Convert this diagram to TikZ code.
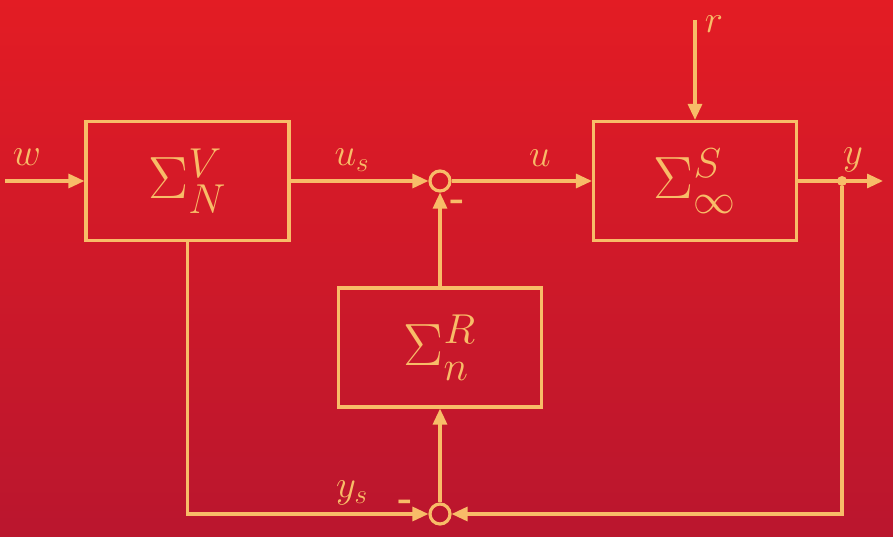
\RequirePackage{fix-cm}
\documentclass[tikz,border=0pt]{standalone}
\usepackage{tikz}
\usetikzlibrary{arrows.meta,positioning}
\definecolor{bgtop}{RGB}{227,28,36}
\definecolor{bgbot}{RGB}{186,22,46}
\definecolor{lineor}{RGB}{248,188,104}
\begin{document}
\begin{tikzpicture}[x=0.02cm, y=-0.02cm,
  block/.style={draw=lineor, line width=1.8pt, rectangle, minimum width=4.06cm, minimum height=2.38cm, text=lineor, font=\fontsize{34}{40}\selectfont},
  sum/.style={draw=lineor, line width=1.8pt, circle, minimum size=0.4cm, inner sep=0pt},
  sig/.style={text=lineor, inner sep=1pt, font=\fontsize{22}{26}\selectfont},
  link/.style={draw=lineor, line width=1.8pt, -{Triangle[length=0.32cm,width=0.28cm]}}
]
\shade[top color=bgtop, bottom color=bgbot] (0,0) rectangle (893,537);
\useasboundingbox (0,0) rectangle (893,537);
\node[block] (V) at (187.5,181) {$\Sigma_N^V$};
\node[block] (S) at (695,181) {$\Sigma_\infty^S$};
\node[block] (R) at (440,347.5) {$\Sigma_n^R$};
\node[sum] (st) at (440,181) {};
\node[sum] (sb) at (440,514) {};
\node[fill=lineor, circle, inner sep=0pt, minimum size=0.2cm] (dot) at (842,181) {};
\coordinate (win) at (5,181);
\coordinate (rin) at (695,20);
\coordinate (yout) at (883,181);
\draw[link] (win) -- (V);
\draw[link] (V) -- (st);
\draw[link] (st) -- (S);
\draw[link] (rin) -- (S);
\draw[link] (S) -- (yout);
\draw[link] (R) -- (st);
\draw[link] (sb) -- (R);
\draw[link] (V) |- (sb);
\draw[link] (dot) |- (sb);
\node[sig] (lw) at (27,157) {$w$};
\node[sig] (lus) at (352,160) {$u_s$};
\node[sig] (lu) at (540,158) {$u$};
\node[sig] (ly) at (853,160) {$y$};
\node[sig] (lr) at (714,24) {$r$};
\node[sig] (lys) at (352,493) {$y_s$};
\node[sig] (m1) at (458,205) {\bfseries -};
\node[sig] (m2) at (406,505) {\bfseries -};
\end{tikzpicture}
\end{document}
